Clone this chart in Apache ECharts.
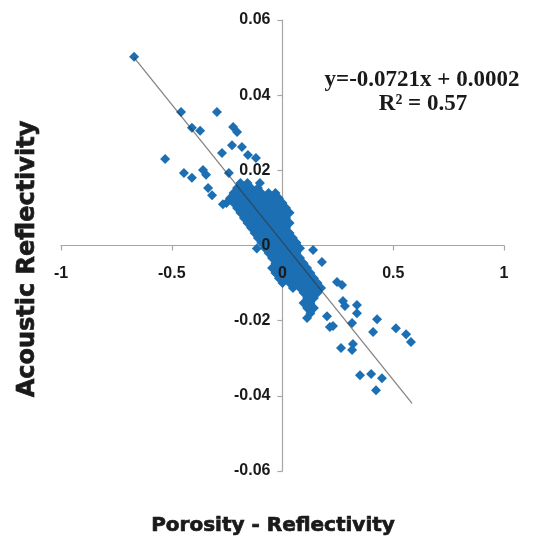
<!DOCTYPE html>
<html>
<head>
<meta charset="utf-8">
<script src="https://cdn.jsdelivr.net/npm/echarts@6/dist/echarts.min.js"></script>
<style>html,body{margin:0;padding:0;background:#fff;}#chart{width:534px;height:540px;}</style>
</head>
<body>
<div id="chart"></div>
<script>
// ---- data ----
var xTicks = [-1, -0.5, 0, 0.5, 1];
var yTicks = [-0.06, -0.04, -0.02, 0, 0.02, 0.04, 0.06];

// isolated points [porosity reflectivity, acoustic reflectivity]
var outlierPoints = [
  [-0.670, 0.0502], [-0.458, 0.0355], [-0.296, 0.0355], [-0.409, 0.0313],
  [-0.372, 0.0305], [-0.223, 0.0315], [-0.205, 0.0302], [-0.183, 0.0262],
  [-0.228, 0.0267], [-0.273, 0.0246], [-0.156, 0.0241], [-0.120, 0.0233],
  [-0.530, 0.0230], [-0.445, 0.0193], [-0.409, 0.0180], [-0.359, 0.0201],
  [-0.345, 0.0188], [-0.336, 0.0153], [-0.318, 0.0134], [-0.242, 0.0193],
  [-0.269, 0.0110], [-0.102, 0.0166], [-0.116, -0.0008],
  [0.138, -0.0012], [0.178, -0.0044], [0.246, -0.0097], [0.269, -0.0105],
  [0.273, -0.0148], [0.282, -0.0161], [0.336, -0.0158], [0.336, -0.0180],
  [0.201, -0.0188], [0.214, -0.0217], [0.228, -0.0214], [0.314, -0.0206],
  [0.427, -0.0196], [0.409, -0.0230], [0.512, -0.0220], [0.558, -0.0236],
  [0.580, -0.0257], [0.264, -0.0273], [0.314, -0.0278], [0.318, -0.0262],
  [0.350, -0.0345], [0.400, -0.0342], [0.449, -0.0353], [0.422, -0.0385]
];

// dense central cloud, read row by row (acoustic value of row, porosity values in row)
var clusterRowY = [
  0.0166, 0.0153, 0.0140, 0.0126, 0.0113, 0.0100, 0.0087, 0.0073, 0.0060, 0.0047,
  0.0033, 0.0020, 0.0007, -0.0007, -0.0020, -0.0033, -0.0047, -0.0060, -0.0073, -0.0087,
  -0.0100, -0.0113, -0.0126, -0.0140, -0.0153, -0.0166, -0.0180, -0.0193
];
var clusterRowX = [
  [-0.190, -0.158],
  [-0.205, -0.174, -0.142, -0.111],
  [-0.221, -0.190, -0.158, -0.126, -0.095, -0.063, -0.032],
  [-0.237, -0.205, -0.174, -0.142, -0.111, -0.079, -0.047, -0.016],
  [-0.253, -0.221, -0.190, -0.158, -0.126, -0.095, -0.063, -0.032, 0.000],
  [-0.205, -0.174, -0.142, -0.111, -0.079, -0.047, -0.016, 0.016],
  [-0.190, -0.158, -0.126, -0.095, -0.063, -0.032, 0.000, 0.032],
  [-0.174, -0.142, -0.111, -0.079, -0.047, -0.016, 0.016],
  [-0.158, -0.126, -0.095, -0.063, -0.032, 0.000, 0.032],
  [-0.142, -0.111, -0.079, -0.047, -0.016, 0.016],
  [-0.126, -0.095, -0.063, -0.032, 0.000, 0.032],
  [-0.111, -0.079, -0.047, -0.016, 0.016, 0.047],
  [-0.095, -0.063, -0.032, 0.000, 0.032, 0.063],
  [-0.079, -0.047, -0.016, 0.016, 0.047, 0.079],
  [-0.063, -0.032, 0.000, 0.032, 0.063],
  [-0.047, -0.016, 0.016, 0.047, 0.079],
  [-0.032, 0.000, 0.032, 0.063, 0.095],
  [-0.047, -0.016, 0.016, 0.047, 0.079, 0.111],
  [-0.032, 0.000, 0.032, 0.063, 0.095, 0.126],
  [-0.016, 0.016, 0.047, 0.079, 0.111, 0.142],
  [0.000, 0.032, 0.063, 0.095, 0.126, 0.158],
  [0.047, 0.079, 0.111, 0.142, 0.174],
  [0.095, 0.126, 0.158],
  [0.111, 0.142],
  [0.095, 0.126],
  [0.111, 0.142],
  [0.126],
  [0.111]
];

// linear trend line end points (as drawn)
var trendLine = [[-0.670, 0.0500], [0.585, -0.0420]];
var equationText = 'y=-0.0721x + 0.0002';
var r2Text = 'R\u00B2 = 0.57';
var xTitle = 'Porosity - Reflectivity';
var yTitle = 'Acoustic Reflectivity';

// ---- build ----
var points = outlierPoints.slice();
clusterRowY.forEach(function (y, i) {
  clusterRowX[i].forEach(function (x) { points.push([x, y]); });
});

var labelFont = { fontFamily: 'Liberation Sans, Arial, sans-serif', fontWeight: 'bold', fontSize: 16, color: '#1a1a1a' };
var axisGray = '#a6a6a6';
var gridRect = { left: 61, right: 30, top: 20, bottom: 69, containLabel: false };
// plot area: x 61..504, y 20..471; zero lines sit at the centre
var plotW = 534 - gridRect.left - gridRect.right;
var plotH = 540 - gridRect.top - gridRect.bottom;

var chart = echarts.init(document.getElementById('chart'), null, { renderer: 'canvas' });
chart.setOption({
  animation: false,
  backgroundColor: '#ffffff',
  grid: [Object.assign({}, gridRect), Object.assign({}, gridRect)],
  xAxis: [
    {
      gridIndex: 0, type: 'value', min: xTicks[0], max: xTicks[xTicks.length - 1], interval: 0.5,
      axisLine: { onZero: true, lineStyle: { color: axisGray, width: 1.2 } },
      axisTick: { show: true, length: 5, lineStyle: { color: axisGray, width: 1.2 } },
      axisLabel: { show: false },
      splitLine: { show: false }, z: 0
    },
    {
      // label-only copy drawn above the points, moved up to the zero line
      gridIndex: 1, type: 'value', min: xTicks[0], max: xTicks[xTicks.length - 1], interval: 0.5,
      position: 'bottom', offset: -plotH / 2,
      axisLine: { show: false, onZero: false },
      axisTick: { show: false },
      axisLabel: Object.assign({ show: true, margin: 20, showMinLabel: true, showMaxLabel: true }, labelFont),
      splitLine: { show: false }, z: 10
    }
  ],
  yAxis: [
    {
      gridIndex: 0, type: 'value', min: yTicks[0], max: yTicks[yTicks.length - 1], interval: 0.02,
      axisLine: { onZero: true, lineStyle: { color: axisGray, width: 1.2 } },
      axisTick: { show: true, length: 5, lineStyle: { color: axisGray, width: 1.2 } },
      axisLabel: { show: false },
      splitLine: { show: false }, z: 0
    },
    {
      gridIndex: 1, type: 'value', min: yTicks[0], max: yTicks[yTicks.length - 1], interval: 0.02,
      position: 'left', offset: -plotW / 2,
      axisLine: { show: false, onZero: false },
      axisTick: { show: false },
      axisLabel: Object.assign({ show: true, margin: 12, showMinLabel: true, showMaxLabel: true }, labelFont),
      splitLine: { show: false }, z: 10
    }
  ],
  series: [
    {
      type: 'scatter', xAxisIndex: 0, yAxisIndex: 0,
      symbol: 'diamond', symbolSize: 10,
      itemStyle: { color: '#1c6fb3', opacity: 1 },
      data: points, z: 2
    },
    {
      type: 'line', xAxisIndex: 0, yAxisIndex: 0,
      data: trendLine, showSymbol: false, symbol: 'none',
      lineStyle: { color: 'rgba(50,50,50,0.6)', width: 1.3 },
      z: 3
    }
  ],
  graphic: [
    {
      type: 'text', x: 422, y: 80, z: 20,
      style: { text: equationText, fontFamily: 'Liberation Serif, Times New Roman, serif', fontWeight: 'bold', fontSize: 23, fill: '#1a1a1a', align: 'center', verticalAlign: 'middle' }
    },
    {
      type: 'text', x: 423, y: 104, z: 20,
      style: { text: r2Text, fontFamily: 'Liberation Serif, Times New Roman, serif', fontWeight: 'bold', fontSize: 23, fill: '#1a1a1a', align: 'center', verticalAlign: 'middle' }
    },
    {
      type: 'text', x: 273, y: 526, z: 20,
      style: { text: xTitle, fontFamily: 'DejaVu Sans, sans-serif', fontWeight: 'bold', fontSize: 20, fill: '#1a1a1a', stroke: '#1a1a1a', lineWidth: 0.7, align: 'center', verticalAlign: 'middle' }
    },
    {
      type: 'text', x: 28, y: 259, rotation: Math.PI / 2, z: 20,
      style: { text: yTitle, fontFamily: 'DejaVu Sans, sans-serif', fontWeight: 'bold', fontSize: 24, fill: '#1a1a1a', stroke: '#1a1a1a', lineWidth: 0.7, align: 'center', verticalAlign: 'middle' }
    }
  ]
});
</script>
</body>
</html>
